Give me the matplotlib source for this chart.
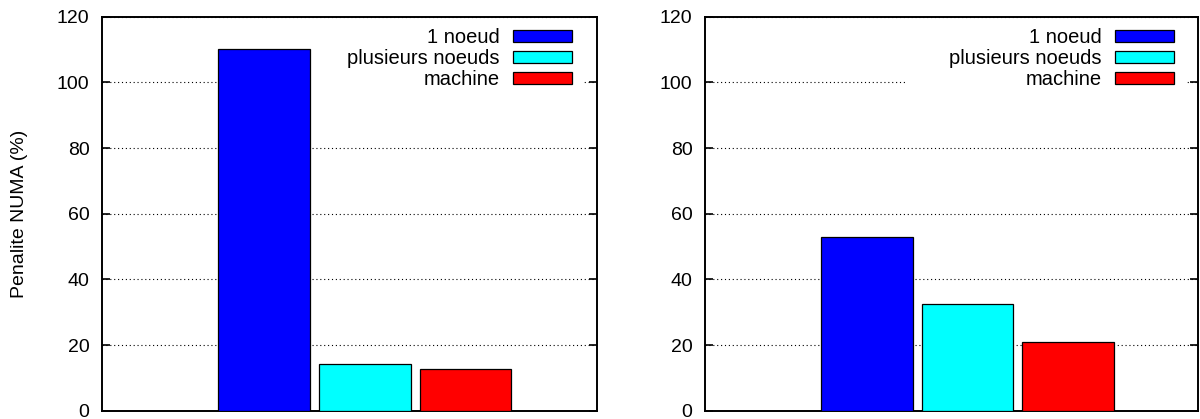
import numpy as np
import matplotlib
matplotlib.use('Agg')
import matplotlib.pyplot as plt
from matplotlib.patches import Rectangle

plt.rcParams['font.family'] = ['Liberation Sans', 'DejaVu Sans']

# Data
labels = ['1 noeud', 'plusieurs noeuds', 'machine']
colors = ['#0000ff', '#00ffff', '#ff0000']
left_values = [110.1, 14.1, 12.8]
right_values = [53.0, 32.5, 20.8]
yticks = [0, 20, 40, 60, 80, 100, 120]

fig = plt.figure(figsize=(12, 4.19), dpi=100)
ax1 = fig.add_axes([0.085, 0.0198, 0.4121, 0.9403])
ax2 = fig.add_axes([0.5875, 0.0198, 0.4112, 0.9403])


def draw_panel(ax, values):
    x = np.arange(len(values))
    for i, v in enumerate(values):
        ax.bar(x[i], v, width=0.91, color=colors[i], edgecolor='black',
               linewidth=0.9, label=labels[i], zorder=3)
    ax.set_xlim(-1.61, 3.3)
    ax.set_ylim(0, 120)
    ax.set_yticks(yticks)
    ax.set_xticks([])
    ax.tick_params(axis='y', direction='in', length=6, width=1.2,
                   labelsize=14, pad=9, right=True)
    ax.set_axisbelow(True)
    ax.yaxis.grid(True, linestyle=(0, (1, 2.5)), color='black', linewidth=0.8)
    for s in ax.spines.values():
        s.set_linewidth(1.4)
    # blank area behind the key (hides the grid like gnuplot does)
    ax.add_patch(Rectangle((0.405, 0.8), 0.57, 0.19, transform=ax.transAxes,
                           facecolor='white', edgecolor='none', zorder=2))
    ax.legend(loc='upper right', bbox_to_anchor=(0.9626, 0.986),
              borderaxespad=0, markerfirst=False, fontsize=14.5,
              handlelength=2.95, handleheight=0.5, handletextpad=0.65,
              labelspacing=0.1, borderpad=0.3, frameon=False)


draw_panel(ax1, left_values)
draw_panel(ax2, right_values)
ax1.set_ylabel('Penalite NUMA (%)', fontsize=14, labelpad=21)

fig.savefig('out.png', dpi=100)
